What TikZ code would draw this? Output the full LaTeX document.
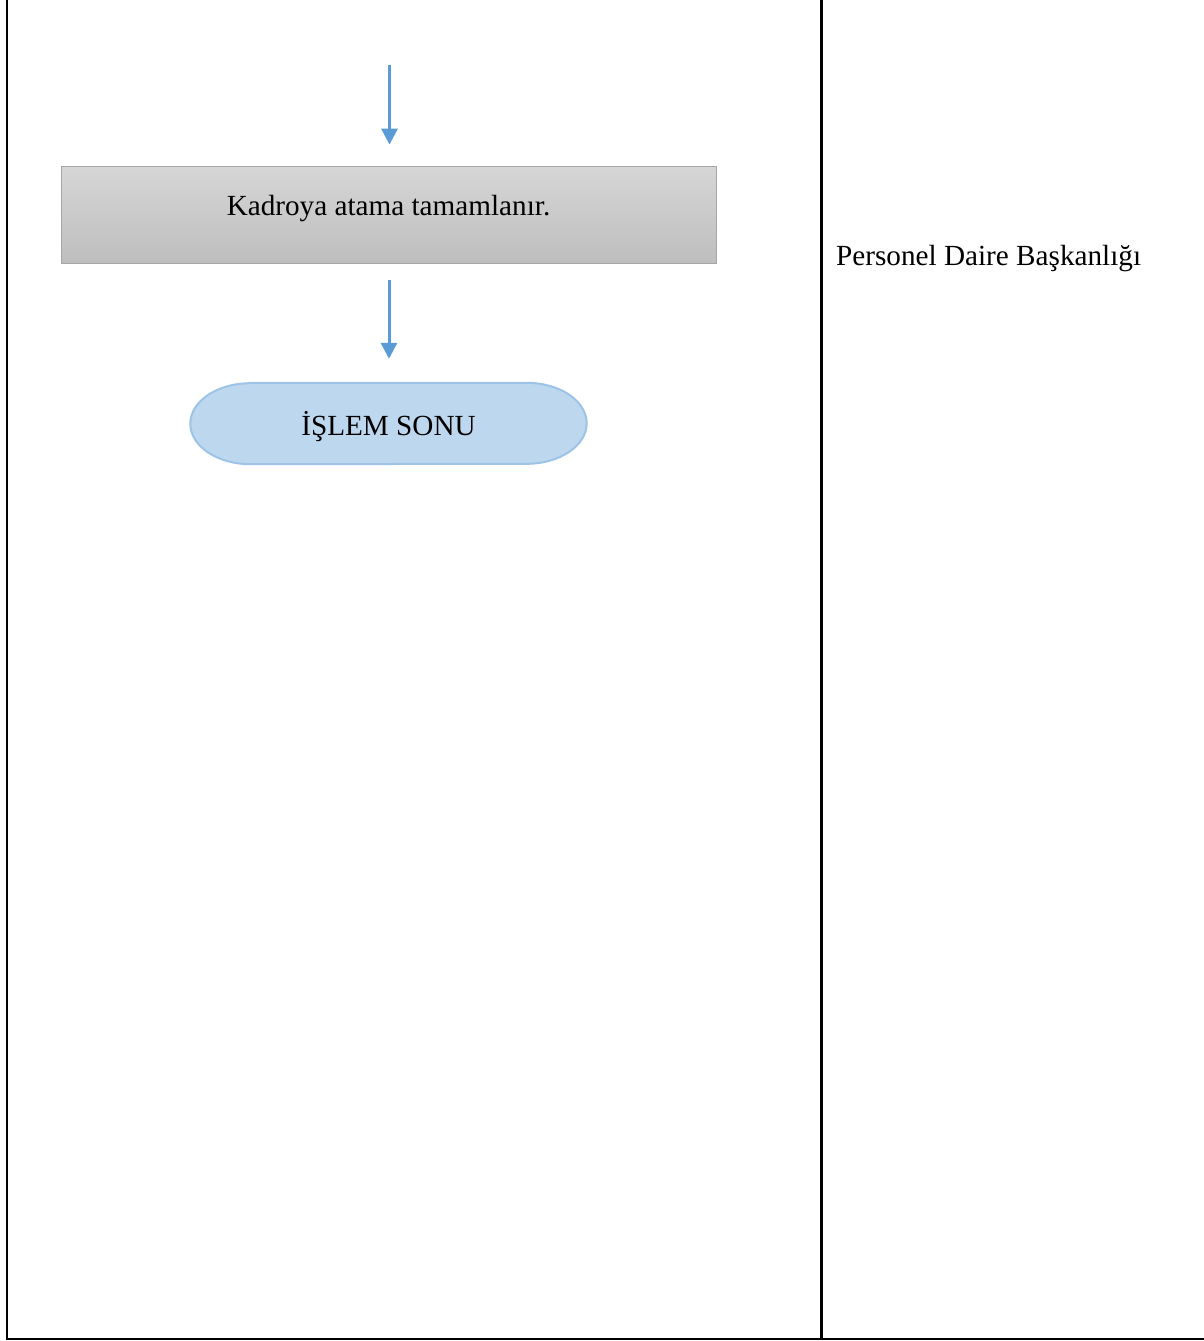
\documentclass[tikz,border=0pt]{standalone}
\usepackage{fontspec}
\setmainfont{Liberation Serif}
\usetikzlibrary{arrows.meta}
\definecolor{arrowblue}{HTML}{5B9BD5}
\definecolor{boxtop}{HTML}{D6D6D6}
\definecolor{boxbot}{HTML}{BEBEBE}
\definecolor{boxline}{HTML}{A6A6A6}
\definecolor{termfill}{HTML}{BDD7EE}
\definecolor{termline}{HTML}{9DC3E6}
\tikzset{
  frameline/.style={line width=2.4pt, black},
  flowarrow/.style={draw=arrowblue, line width=3pt, -{Triangle[length=16pt,width=16pt]}},
  procbox/.style={draw=boxline, line width=0.8pt, top color=boxtop, bottom color=boxbot,
    minimum width=655pt, minimum height=97pt, inner sep=0pt},
  bigtext/.style={font=\fontsize{29.2pt}{34pt}\selectfont, inner sep=0pt},
}
\begin{document}
\begin{tikzpicture}[x=1pt,y=-1pt]
\useasboundingbox (0,0) rectangle (1204,1341);
% frame
\coordinate (tl) at (7,0);
\coordinate (bl) at (7,1339);
\coordinate (tm) at (821.5,0);
\coordinate (bm) at (821.5,1339);
\coordinate (br) at (1204,1339);
\draw[frameline] (tl) -- (bl);
\draw[frameline] (tm) -- (bm);
\draw[frameline] ([xshift=-1.2pt]bl) -- (br);
% process box
\node[procbox] (kad) at (388.5,214.5) {};
\node[bigtext, anchor=base] (kadtxt) at ([yshift=-0.5pt]kad.center) {Kadroya atama tamamlanır.};
% terminal
\node[minimum width=396pt, minimum height=81pt, inner sep=0pt] (isl) at (388.5,423.5) {};
\filldraw[fill=termfill, draw=termline, line width=2pt]
  ([xshift=60pt]isl.north west) -- ([xshift=-60pt]isl.north east)
  arc[start angle=90, end angle=-90, x radius=60pt, y radius=40.5pt]
  -- ([xshift=60pt]isl.south west)
  arc[start angle=270, end angle=90, x radius=60pt, y radius=40.5pt] -- cycle;
\node[bigtext, anchor=base] (isltxt) at ([yshift=-11.5pt]isl.center) {İŞLEM SONU};
% arrows
\coordinate (a1s) at (389.5,65);
\draw[flowarrow, shorten >=21pt] (a1s) -- (a1s |- kad.north);
\draw[flowarrow, shorten <=17pt, shorten >=24pt] ([xshift=0.5pt]kad.south) -- ([xshift=0.5pt]isl.north);
% side label
\node[bigtext, anchor=base west] (pdb) at (836,265) {Personel Daire Başkanlığı};
\end{tikzpicture}
\end{document}
